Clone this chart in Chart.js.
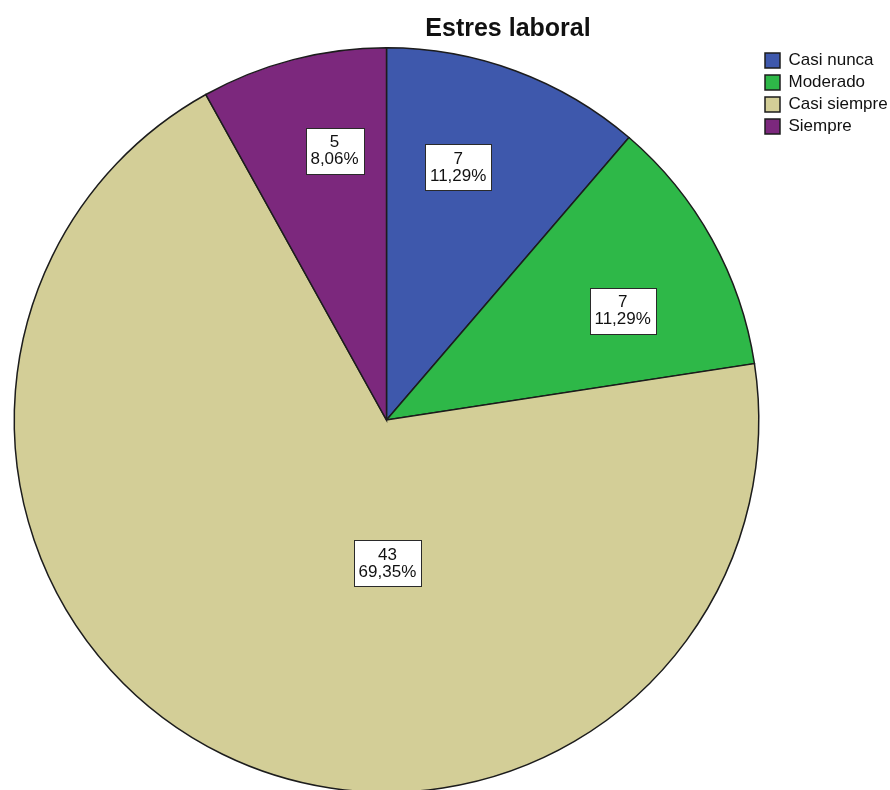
<!DOCTYPE html>
<html>
<head>
<meta charset="utf-8">
<title>Estres laboral</title>
<script src="https://cdn.jsdelivr.net/npm/chart.js@4.4.1/dist/chart.umd.min.js"></script>
<style>
  html, body { margin: 0; padding: 0; background: #fff; overflow: hidden; }
  #wrap { position: relative; width: 890px; height: 800px; }
</style>
</head>
<body>
<div id="wrap"><canvas id="chartEstres"></canvas></div>
<script>
// Datos
const categorias = ['Casi nunca', 'Moderado', 'Casi siempre', 'Siempre'];
const frecuencias = [7, 7, 43, 5];
const colores = ['#3E58AC', '#2EB848', '#D3CE97', '#7C287D'];
const tituloGrafico = 'Estres laboral';

const FUENTE = '"Liberation Sans", Arial, sans-serif';

// Ubicación de cada etiqueta: giro (grados) respecto a la bisectriz y fracción del radio
const posEtiquetas = [
    { giro: -4.5, radio: 0.706 },
    { giro: 4.2, radio: 0.699 },
    { giro: -26.5, radio: 0.385 },
    { giro: 3.6, radio: 0.737 }
];

const total = frecuencias.reduce((a, b) => a + b, 0);
const formatPct = (v) => (v / total * 100).toFixed(2).replace('.', ',') + '%';

// Cajas blancas con frecuencia y porcentaje
const etiquetasPlugin = {
    id: 'etiquetasPorcion',
    afterDatasetsDraw(chart) {
        const ctx = chart.ctx;
        const meta = chart.getDatasetMeta(0);
        ctx.save();
        ctx.font = '17px ' + FUENTE;
        ctx.textAlign = 'center';
        ctx.textBaseline = 'middle';
        meta.data.forEach((arc, i) => {
            const { x, y, startAngle, endAngle, outerRadius } =
                arc.getProps(['x', 'y', 'startAngle', 'endAngle', 'outerRadius'], true);
            const p = posEtiquetas[i];
            const ang = (startAngle + endAngle) / 2 + p.giro * Math.PI / 180;
            const cx = x + Math.cos(ang) * outerRadius * p.radio;
            const cy = y + Math.sin(ang) * outerRadius * p.radio;
            const lineas = [String(frecuencias[i]), formatPct(frecuencias[i])];
            const ancho = Math.ceil(Math.max(...lineas.map(t => ctx.measureText(t).width))) + 9;
            const alto = 46;
            const bx = Math.round(cx - ancho / 2) + 0.5;
            const by = Math.round(cy - alto / 2) + 0.5;
            ctx.fillStyle = '#ffffff';
            ctx.fillRect(bx, by, ancho, alto);
            ctx.strokeStyle = '#2a2a2a';
            ctx.lineWidth = 1;
            ctx.strokeRect(bx, by, ancho, alto);
            ctx.fillStyle = '#111111';
            ctx.fillText(lineas[0], cx, cy - 8);
            ctx.fillText(lineas[1], cx, cy + 9);
        });
        ctx.restore();
    }
};

// Título
const tituloPlugin = {
    id: 'tituloEstres',
    afterDraw(chart) {
        const ctx = chart.ctx;
        ctx.save();
        ctx.font = 'bold 25px ' + FUENTE;
        ctx.fillStyle = '#111111';
        ctx.textAlign = 'center';
        ctx.textBaseline = 'alphabetic';
        ctx.fillText(tituloGrafico, 508, 36);
        ctx.restore();
    }
};

const ctx = document.getElementById('chartEstres').getContext('2d');
new Chart(ctx, {
    type: 'pie',
    data: {
        labels: categorias,
        datasets: [{
            data: frecuencias,
            backgroundColor: colores,
            borderColor: '#1c1c1c',
            borderWidth: 1.5,
            borderJoinStyle: 'miter'
        }]
    },
    options: {
        responsive: true,
        maintainAspectRatio: false,
        animation: false,
        events: [],
        layout: { padding: { left: 13, top: 47, right: 0, bottom: 7 } },
        plugins: {
            title: { display: false },
            tooltip: { enabled: false },
            legend: {
                position: 'right',
                align: 'start',
                maxWidth: 130,
                labels: {
                    font: { family: FUENTE, size: 17 },
                    color: '#111111',
                    boxWidth: 15,
                    boxHeight: 15,
                    padding: 5
                }
            }
        }
    },
    plugins: [etiquetasPlugin, tituloPlugin]
});
</script>
</body>
</html>
